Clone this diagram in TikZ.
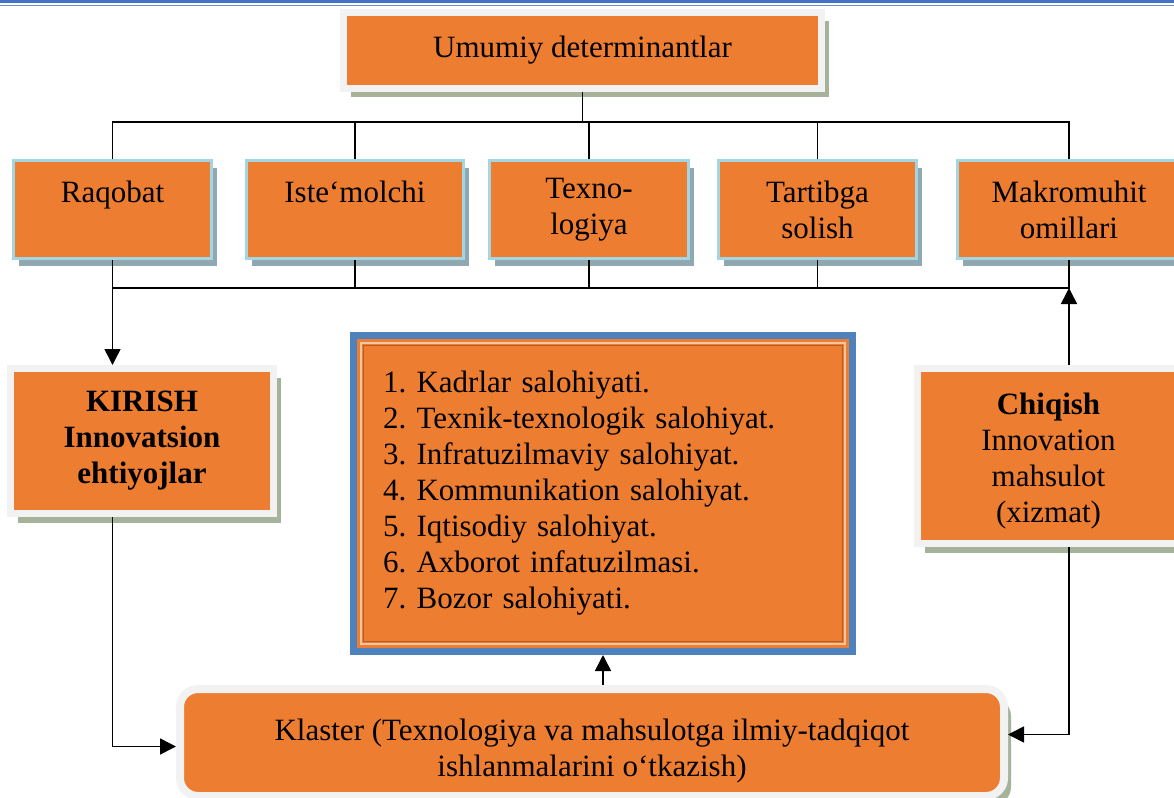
\documentclass[tikz,border=0pt]{standalone}
\usepackage{fontspec}
\setmainfont{Liberation Serif}
\usetikzlibrary{arrows.meta,shadows}

\definecolor{boxorange}{HTML}{ED7D31}
\definecolor{framegray}{HTML}{F2F2F2}
\definecolor{olivesh}{HTML}{A7B29A}
\definecolor{cyanedge}{HTML}{A3D6E2}
\definecolor{bluesh}{HTML}{8FA8B1}
\definecolor{listblue}{HTML}{4F81BD}
\definecolor{topblue}{HTML}{4472C4}
\newcommand{\diagfont}{\fontsize{15.5}{18}\selectfont\frenchspacing}

\begin{document}
\begin{tikzpicture}[x=0.5pt,y=-0.5pt,
  every node/.style={font=\diagfont},
  graybox/.style={draw=framegray, line width=3.5pt, fill=boxorange, align=center, inner sep=0pt,
    drop shadow={shadow xshift=3.5pt, shadow yshift=-4.5pt, fill=olivesh, opacity=1}},
  cyanbox/.style={draw=cyanedge, line width=1.5pt, fill=boxorange, align=center, inner sep=0pt,
    minimum height=49pt, drop shadow={shadow xshift=2.75pt, shadow yshift=-3.75pt, fill=bluesh, opacity=1}},
  link/.style={line width=0.8pt},
  arr/.style={link, arrows={-Triangle[width=8pt,length=8pt,black,fill=black]}}]
\useasboundingbox (0,0) rectangle (1174,798);

% top rule
\draw[topblue, line width=1.5pt] (0,1.5) -- (1174,1.5);
\draw[topblue!80!white, line width=0.7pt] (0,5.5) -- (1174,5.5);

% boxes
\node[graybox, minimum width=239pt, minimum height=38pt] (umumiy) at (582.5,50) {Umumiy determinantlar};
\node[cyanbox, minimum width=99pt] (raqobat) at (112.5,209.5) {Raqobat\\~};
\node[cyanbox, minimum width=108.5pt] (istemol) at (355,209.5) {Iste‘molchi\\~};
\node[cyanbox, minimum width=99.5pt] (texno) at (589,209.5) {Texno-\\logiya};
\node[cyanbox, minimum width=99pt] (tartib) at (817.5,209.5) {Tartibga\\solish};
\node[cyanbox, minimum width=111.5pt] (makro) at (1069,209.5) {Makromuhit\\omillari};
\node[graybox, minimum width=131.5pt, minimum height=72.5pt, font=\diagfont\bfseries] (kirish) at (142,441) {KIRISH\\Innovatsion\\ehtiyojlar};
\node[graybox, minimum width=131pt, minimum height=87.5pt] (chiqish) at (1048.5,456) {\rule{0pt}{16pt}\textbf{Chiqish}\\Innovation\\mahsulot\\(xizmat)};
\node[draw=listblue, line width=3.5pt, fill=boxorange, minimum height=158pt, text width=220pt,
  inner xsep=14.75pt, inner ysep=0pt, align=left] (salohiyat) at (603,493.5)
  {1. Kadrlar salohiyati.\\2. Texnik-texnologik salohiyat.\\3. Infratuzilmaviy salohiyat.\\4. Kommunikation salohiyat.\\5. Iqtisodiy salohiyat.\\6. Axborot infatuzilmasi.\\7. Bozor salohiyati.\\[6pt]};
\draw[boxorange!45!white, line width=0.7pt] ([shift={(5.5pt,-5.5pt)}]salohiyat.north west) rectangle ([shift={(-5.5pt,5.5pt)}]salohiyat.south east);
\draw[boxorange!75!black, line width=0.4pt] ([shift={(6.6pt,-6.6pt)}]salohiyat.north west) rectangle ([shift={(-6.6pt,6.6pt)}]salohiyat.south east);
\node[graybox, line width=4pt, rounded corners=9pt, minimum width=412pt, minimum height=53.5pt] (klaster) at (592,742.5)
  {\rule{0pt}{19pt}Klaster (Texnologiya va mahsulotga ilmiy-tadqiqot\\ishlanmalarini o‘tkazish)};

% connectors
\coordinate (bartop) at (0,122);
\coordinate (barbot) at (0,288);
\draw[link] (umumiy.south) -- (umumiy.south |- bartop);
\draw[link] (raqobat.north) -- (raqobat.north |- bartop) -- (makro.north |- bartop) -- (makro.north);
\draw[link] (raqobat.south) -- (raqobat.south |- barbot) -- (makro.south |- barbot) -- (makro.south);
\foreach \n in {istemol,texno,tartib}{
  \draw[link] (\n.north) -- (\n.north |- bartop);
  \draw[link] (\n.south) -- (\n.south |- barbot);
}
\draw[arr] (raqobat.south |- barbot) -- (raqobat.south |- kirish.north);
\draw[arr] (makro.south |- chiqish.north) -- (makro.south |- barbot);
\draw[arr] (raqobat.south |- kirish.south) |- ([yshift=-2pt]klaster.west);
\draw[arr] (makro.south |- chiqish.south) |- ([yshift=4pt]klaster.east);
\draw[arr] (salohiyat.south |- klaster.north) -- (salohiyat.south);
\end{tikzpicture}
\end{document}
